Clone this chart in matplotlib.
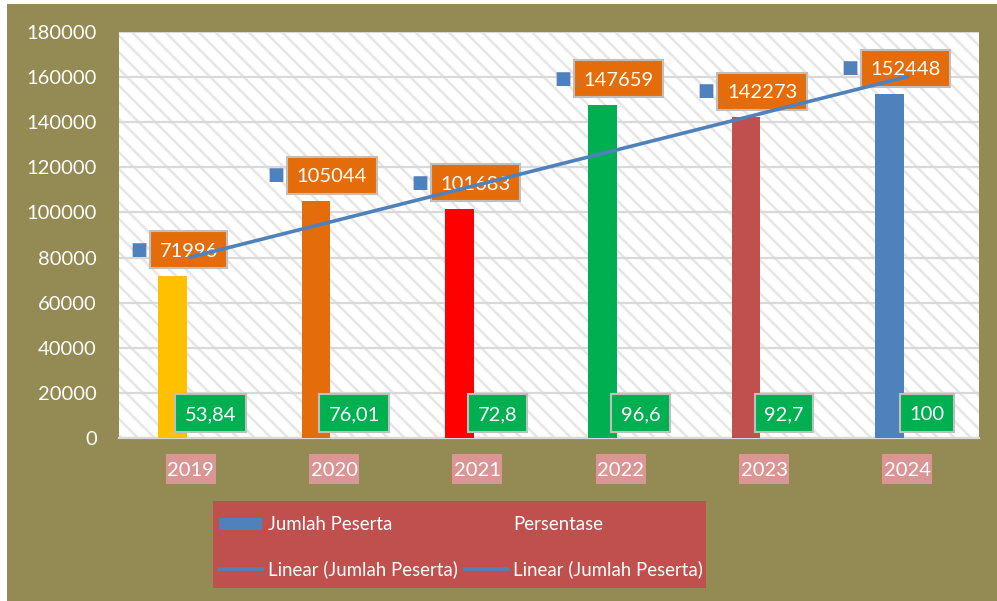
#!/usr/bin/env python3
"""Jumlah peserta per tahun dengan persentase dan garis tren linear."""

import matplotlib

matplotlib.use("Agg")
import matplotlib.pyplot as plt
import matplotlib.transforms as mtransforms
import numpy as np
from matplotlib.lines import Line2D
from matplotlib.patches import Patch, Rectangle

YEARS = ["2019", "2020", "2021", "2022", "2023", "2024"]
PESERTA = [71996, 105044, 101683, 147659, 142273, 152448]
PERSENTASE = ["53,84", "76,01", "72,8", "96,6", "92,7", "100"]
BAR_COLORS = ["#FFC000", "#E46C0A", "#FF0000", "#00B050", "#C0504D", "#4F81BD"]
Y_TICKS = [0, 20000, 40000, 60000, 80000, 100000, 120000, 140000, 160000, 180000]

OLIVE = "#948A54"
BLUE = "#4F81BD"
ORANGE = "#E46C0A"
GREEN = "#00B050"
PINK = "#D99694"
LEGEND_RED = "#C0504D"
BOX_EDGE = "#BFBFBF"

W, H = 997, 601
PT = 0.72  # points per pixel at dpi 100
FS = 14.5
CAP = FS / PT * 0.7165  # cap height of Lato in pixels

plt.rcParams["font.family"] = ["Lato", "DejaVu Sans"]
plt.rcParams["hatch.linewidth"] = 1.8

fig = plt.figure(figsize=(W / 100, H / 100), dpi=100, facecolor="white")
fig.patches.append(
    Rectangle((7 / W, 0), 1 - 7 / W, 1 - 4 / H, transform=fig.transFigure,
              facecolor=OLIVE, edgecolor="none", zorder=-2)
)

ax = fig.add_axes([119 / W, 1 - 438 / H, (979 - 119) / W, (438 - 32) / H])
ax.set_zorder(2)
ax.set_facecolor("white")
ax.add_patch(Rectangle((0, 0), 1, 1, transform=ax.transAxes, facecolor="white",
                       edgecolor="#E6E6E6", linewidth=0, hatch="\\\\", zorder=0))

x = np.arange(len(YEARS))
ax.bar(x - 0.125, PESERTA, width=0.2, color=BAR_COLORS, zorder=3)

# linear trend line
coef = np.polyfit(x, PESERTA, 1)
ax.plot(x, np.polyval(coef, x), color=BLUE, linewidth=2.6, zorder=6)

ax.set_xlim(-0.5, len(YEARS) - 0.5)
ax.set_ylim(0, 180000)
ax.set_yticks(Y_TICKS)
ax.set_yticklabels([str(v) for v in Y_TICKS], color="white", fontsize=FS)
ax.tick_params(axis="y", length=0, pad=22 * PT)
ax.set_xticks([])
ax.grid(axis="y", color="#D9D9D9", linewidth=1.6, zorder=1)
ax.set_axisbelow(True)
for side in ["top", "right", "left"]:
    ax.spines[side].set_visible(False)
ax.spines["bottom"].set_color("#D9D9D9")
ax.spines["bottom"].set_linewidth(1.6)

boxes = []


def boxed_label(text, xy, trans, dx, dy, face, edge, pad_x, box_h):
    """Text centred dx, dy pixels from xy, with a box of fixed height behind it."""
    t = ax.annotate(text, xy=xy, xycoords=trans, xytext=(dx * PT, (dy - CAP / 2) * PT),
                    textcoords="offset points", ha="center", va="baseline",
                    color="white", fontsize=FS, zorder=5, annotation_clip=False)
    boxes.append((t, xy, trans, dx, dy, face, edge, pad_x, box_h))


xtrans = mtransforms.blended_transform_factory(ax.transData, ax.transAxes)
for i, (val, pct) in enumerate(zip(PESERTA, PERSENTASE)):
    txt = str(val)
    boxed_label(txt, (i, val), ax.transData, -2, 26, ORANGE, BOX_EDGE, 9.5, 37)
    half = 10 + 5.8 * len(txt)
    ax.annotate("\u25A0", xy=(i, val), xytext=(-(half + 13) * PT, 26 * PT),
                textcoords="offset points", ha="center", va="center",
                color=BLUE, fontsize=13, zorder=5, family="DejaVu Sans")
    boxed_label(pct, (i, 0), ax.transData, 20, 25, GREEN, BOX_EDGE, 9.5, 38)
    boxed_label(YEARS[i], (i, 0), xtrans, 0, -31, PINK, "none", 1.5, 30)

fig.canvas.draw()
renderer = fig.canvas.get_renderer()
to_axes = ax.transAxes.inverted()
for t, xy, trans, dx, dy, face, edge, pad_x, box_h in boxes:
    bb = t.get_window_extent(renderer)
    cx, cy = trans.transform(xy) + np.array([dx, dy])
    half_w = bb.width / 2 + pad_x
    (x0, y0), (x1, y1) = to_axes.transform([(cx - half_w, cy - box_h / 2),
                                            (cx + half_w, cy + box_h / 2)])
    ax.add_patch(Rectangle((x0, y0), x1 - x0, y1 - y0, transform=ax.transAxes,
                           facecolor=face, edgecolor=edge, linewidth=1.5,
                           zorder=4, clip_on=False))

# legend box
fig.patches.append(
    Rectangle((213 / W, 1 - 588 / H), (706 - 213) / W, (588 - 501) / H,
              transform=fig.transFigure, facecolor=LEGEND_RED, edgecolor="none", zorder=1)
)
handles = [
    Patch(facecolor=BLUE, edgecolor="none"),
    Line2D([], [], color=BLUE, linewidth=2.6),
    Patch(facecolor="none", edgecolor="none"),
    Line2D([], [], color=BLUE, linewidth=2.6),
]
labels = ["Jumlah Peserta", "Linear (Jumlah Peserta)", "Persentase", "Linear (Jumlah Peserta)"]
leg = fig.legend(handles, labels, ncol=2, frameon=False, loc="upper left",
                 bbox_to_anchor=(210 / W, 1 - 507 / H), borderpad=0,
                 fontsize=13.4, handlelength=2.3, handleheight=0.65, handletextpad=0.3,
                 columnspacing=0.4, labelspacing=1.45)
leg.set_zorder(5)
for t in leg.get_texts():
    t.set_color("white")

fig.savefig("out.png", dpi=100, facecolor=fig.get_facecolor())
